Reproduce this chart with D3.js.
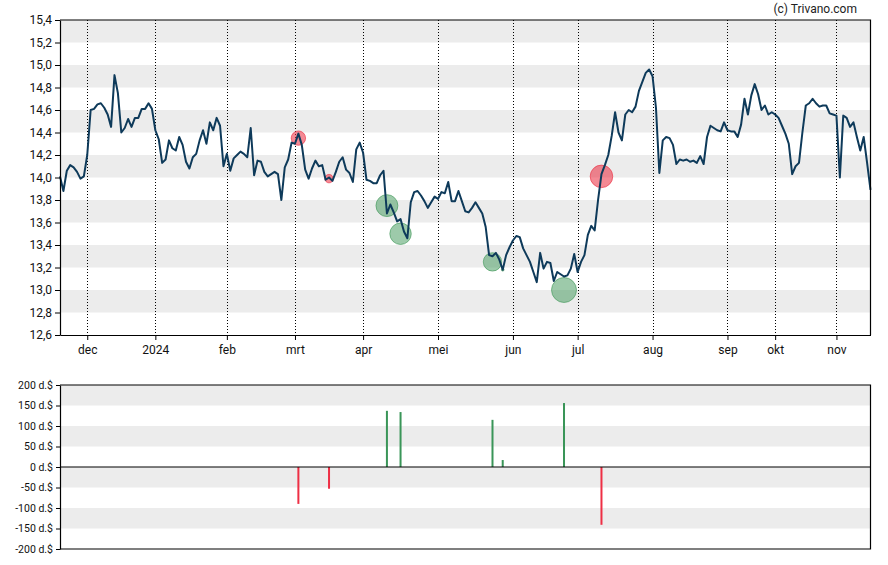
<!DOCTYPE html>
<html>
<head>
<meta charset="utf-8">
<script src="https://cdn.jsdelivr.net/npm/d3@7"></script>
<style>
  html, body { margin: 0; padding: 0; background: #fff; }
  svg { display: block; }
  text { font-family: Roboto, "Liberation Sans", Arial, sans-serif; }
</style>
</head>
<body>
<svg id="chart" width="888" height="565"></svg>
<script>
// ---------- DATA ----------
const prices = [
  14.01, 13.88, 14.06, 14.11, 14.09, 14.05, 13.99, 14.01, 14.20, 14.60,
  14.61, 14.65, 14.66, 14.62, 14.56, 14.45, 14.91, 14.75, 14.40, 14.44,
  14.52, 14.45, 14.53, 14.53, 14.61, 14.61, 14.66, 14.61, 14.42, 14.34,
  14.13, 14.16, 14.33, 14.26, 14.24, 14.36, 14.29, 14.14, 14.08, 14.18,
  14.21, 14.33, 14.42, 14.30, 14.49, 14.42, 14.53, 14.46, 14.10, 14.21,
  14.06, 14.17, 14.20, 14.23, 14.21, 14.18, 14.44, 14.02, 14.15, 14.14,
  14.05, 14.01, 14.03, 14.05, 14.03, 13.80, 14.09, 14.16, 14.31, 14.30,
  14.39, 14.29, 14.07, 13.99, 14.08, 14.15, 14.10, 14.11, 13.98, 14.00,
  13.97, 14.05, 14.14, 14.18, 14.07, 14.04, 13.96, 14.25, 14.31, 14.22,
  13.98, 13.97, 13.95, 13.95, 14.02, 14.06, 13.68, 13.76, 13.69, 13.61,
  13.63, 13.52, 13.46, 13.78, 13.87, 13.88, 13.84, 13.79, 13.73, 13.78,
  13.83, 13.81, 13.87, 13.86, 13.96, 13.79, 13.79, 13.88, 13.79, 13.70,
  13.69, 13.73, 13.78, 13.73, 13.68, 13.56, 13.31, 13.30, 13.33, 13.27,
  13.18, 13.31, 13.38, 13.44, 13.48, 13.47, 13.37, 13.31, 13.25, 13.16,
  13.07, 13.33, 13.19, 13.25, 13.24, 13.08, 13.16, 13.14, 13.12, 13.13,
  13.19, 13.32, 13.16, 13.25, 13.31, 13.49, 13.57, 13.53, 13.80, 14.03,
  14.11, 14.20, 14.37, 14.58, 14.40, 14.33, 14.56, 14.60, 14.58, 14.63,
  14.77, 14.85, 14.93, 14.96, 14.90, 14.62, 14.04, 14.33, 14.36, 14.35,
  14.29, 14.12, 14.16, 14.15, 14.16, 14.14, 14.15, 14.13, 14.19, 14.12,
  14.36, 14.46, 14.44, 14.42, 14.41, 14.49, 14.42, 14.41, 14.41, 14.36,
  14.47, 14.70, 14.56, 14.73, 14.83, 14.74, 14.60, 14.64, 14.56, 14.58,
  14.56, 14.53, 14.46, 14.39, 14.30, 14.03, 14.10, 14.13, 14.40, 14.64,
  14.66, 14.70, 14.66, 14.63, 14.64, 14.64, 14.57, 14.56, 14.55, 14.00,
  14.55, 14.53, 14.45, 14.49, 14.36, 14.24, 14.36, 14.13, 13.89
];

const monthLabels = ["dec", "2024", "feb", "mrt", "apr", "mei", "jun", "jul", "aug", "sep", "okt", "nov"];
const monthIndex  = [8, 28, 49, 69, 89, 111, 133, 152, 174, 196, 210, 228];

const priceTicks = [12.6, 12.8, 13.0, 13.2, 13.4, 13.6, 13.8, 14.0, 14.2, 14.4, 14.6, 14.8, 15.0, 15.2, 15.4];
const flowTicks  = [-200, -150, -100, -50, 0, 50, 100, 150, 200];

// insider-type signals: index on the time axis, amount (d.$), price marker
const signalIndex  = [70, 79, 96, 100, 127, 130, 148, 159];
const signalAmount = [-90, -53, 137, 134, 115, 17, 156, -141];
const signalPrice  = [14.35, 13.99, 13.75, 13.50, 13.25, 13.18, 13.00, 14.01];

// ---------- LAYOUT ----------
const svg = d3.select("#chart");
const L = 60, R = 870.5;
const mainTop = 20, mainBottom = 335;
const flowTop = 385, flowBottom = 549;

const x = d3.scaleLinear().domain([0, prices.length - 1]).range([L, R]);
const y = d3.scaleLinear().domain([12.6, 15.4]).range([mainBottom, mainTop]);
const yf = d3.scaleLinear().domain([-200, 200]).range([flowBottom, flowTop]);

const BAND = "#ececec";

// ---------- MAIN PANEL ----------
const main = svg.append("g");

// alternating bands
const bandStarts = priceTicks.slice(0, -1).filter((d, i) => (priceTicks.length - 2 - i) % 2 === 0);
main.selectAll("rect.band").data(bandStarts).join("rect")
  .attr("class", "band")
  .attr("x", L).attr("width", R - L)
  .attr("y", d => y(d + 0.2)).attr("height", d => y(d) - y(d + 0.2))
  .attr("fill", BAND);

// dotted month lines
main.selectAll("line.vgrid").data(monthIndex).join("line")
  .attr("class", "vgrid")
  .attr("x1", d => Math.round(x(d)) + 0.5).attr("x2", d => Math.round(x(d)) + 0.5)
  .attr("y1", mainTop).attr("y2", mainBottom)
  .attr("stroke", "#000").attr("stroke-width", 1).attr("stroke-dasharray", "1,2");

// signal circles
main.selectAll("circle.sig").data(signalIndex).join("circle")
  .attr("class", "sig")
  .attr("cx", d => x(d))
  .attr("cy", (d, i) => y(signalPrice[i]))
  .attr("r", (d, i) => Math.abs(signalAmount[i]) * 0.08)
  .attr("fill", (d, i) => signalAmount[i] >= 0 ? "rgba(60,150,85,0.5)" : "rgba(235,40,60,0.55)")
  .attr("stroke", (d, i) => signalAmount[i] >= 0 ? "rgba(60,150,85,0.6)" : "rgba(235,40,60,0.6)")
  .attr("stroke-width", 1);

// price line
const line = d3.line().x((d, i) => x(i)).y(d => y(d));
main.append("path")
  .datum(prices)
  .attr("d", line)
  .attr("fill", "none")
  .attr("stroke", "#0e3a5a")
  .attr("stroke-width", 2)
  .attr("stroke-linejoin", "round");

// frame
main.append("path")
  .attr("d", `M${L},${mainTop}H${R}V${mainBottom}`)
  .attr("fill", "none").attr("stroke", "#000").attr("stroke-width", 1.2);

// axes
const yAxis = main.append("g")
  .attr("transform", `translate(${L},0)`)
  .call(d3.axisLeft(y).tickValues(priceTicks).tickSize(5).tickSizeOuter(0)
    .tickFormat(d => d.toFixed(1).replace(".", ",")));
yAxis.selectAll("text").attr("font-size", 12).attr("fill", "#111").attr("font-family", "Roboto, sans-serif");
yAxis.select(".domain").attr("stroke-width", 1.2);

const xAxis = main.append("g")
  .attr("transform", `translate(0,${mainBottom})`)
  .call(d3.axisBottom(x).tickValues(monthIndex).tickSize(5).tickSizeOuter(0)
    .tickFormat((d, i) => monthLabels[i]));
xAxis.selectAll("text").attr("font-size", 12).attr("fill", "#111").attr("dy", "0.9em").attr("font-family", "Roboto, sans-serif");
xAxis.select(".domain").attr("stroke-width", 1.2);

// watermark
svg.append("text")
  .attr("x", 857).attr("y", 13)
  .attr("text-anchor", "end")
  .attr("font-size", 12)
  .attr("fill", "#222")
  .attr("font-family", "Roboto, sans-serif")
  .text("(c) Trivano.com");

// ---------- FLOW PANEL ----------
const flow = svg.append("g");
const flowBands = [150, 50, -50, -150];
flow.selectAll("rect.fband").data(flowBands).join("rect")
  .attr("class", "fband")
  .attr("x", L).attr("width", R - L)
  .attr("y", d => yf(d + 50)).attr("height", d => yf(d) - yf(d + 50))
  .attr("fill", BAND);

flow.selectAll("rect.bar").data(signalIndex).join("rect")
  .attr("class", "bar")
  .attr("x", d => x(d) - 1)
  .attr("width", 2)
  .attr("y", (d, i) => signalAmount[i] >= 0 ? yf(signalAmount[i]) : yf(0))
  .attr("height", (d, i) => Math.abs(yf(signalAmount[i]) - yf(0)))
  .attr("fill", (d, i) => signalAmount[i] >= 0 ? "#3a9558" : "#ee2f45");

// zero line
flow.append("line")
  .attr("x1", L).attr("x2", R).attr("y1", yf(0)).attr("y2", yf(0))
  .attr("stroke", "#000").attr("stroke-width", 1.2);

flow.append("path")
  .attr("d", `M${L},${flowTop}H${R}V${flowBottom}H${L}`)
  .attr("fill", "none").attr("stroke", "#000").attr("stroke-width", 1.2);

const fAxis = flow.append("g")
  .attr("transform", `translate(${L},0)`)
  .call(d3.axisLeft(yf).tickValues(flowTicks).tickSize(4).tickSizeOuter(0)
    .tickFormat(d => `${d} d.$`));
fAxis.selectAll("text").attr("font-size", 10.5).attr("fill", "#111").attr("font-family", "'Liberation Sans', Arial, sans-serif");
fAxis.select(".domain").attr("stroke-width", 1.2);
</script>
</body>
</html>
